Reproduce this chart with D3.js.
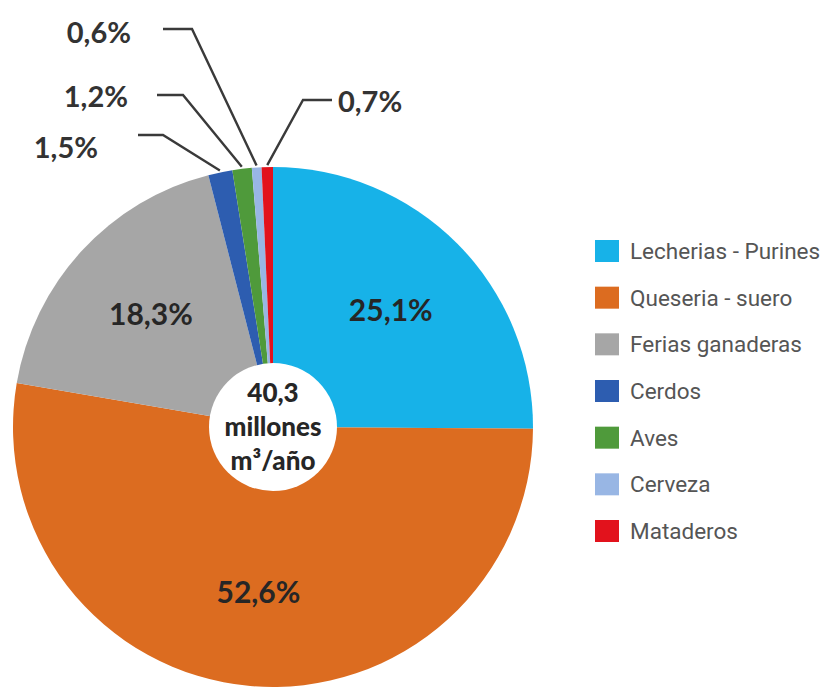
<!DOCTYPE html>
<html>
<head>
<meta charset="utf-8">
<script src="https://cdn.jsdelivr.net/npm/d3@7"></script>
<style>
  html, body { margin: 0; padding: 0; background: #ffffff; }
  svg { display: block; }
</style>
</head>
<body>
<svg id="chart" width="829" height="692"></svg>
<script>
// ---- data ----
const categories = ["Lecherias - Purines", "Queseria - suero", "Ferias ganaderas", "Cerdos", "Aves", "Cerveza", "Mataderos"];
const shares = [25.1, 52.6, 18.3, 1.5, 1.2, 0.6, 0.7];
const shareLabels = ["25,1%", "52,6%", "18,3%", "1,5%", "1,2%", "0,6%", "0,7%"];
const colors = ["#17b2e8", "#dc6c20", "#a6a6a6", "#2d5db0", "#4f9a3b", "#98b6e4", "#e2121c"];
const centerLines = ["40,3", "millones", "m³/año"];

// ---- layout ----
const W = 829, H = 692;
const cx = 273, cy = 427, R = 260, holeR = 64, labelR = 166;
const insideIdx = [0, 1, 2];
// leader-line layout for small slices: elbow point and horizontal end, text anchor
const outside = {
  3: { elbow: [163, 135], end: [138, 135], text: [98, 148], anchor: "end" },
  4: { elbow: [183, 95],  end: [157, 95],  text: [128, 97], anchor: "end" },
  5: { elbow: [192, 29],  end: [163, 29],  text: [131, 33], anchor: "end" },
  6: { elbow: [303, 100], end: [332, 100], text: [338, 102], anchor: "start" }
};

const svg = d3.select("#chart");
const data = categories.map((c, i) => ({ name: c, value: shares[i], label: shareLabels[i], color: colors[i], i }));

const pie = d3.pie().sort(null).value(d => d.value).startAngle(0).endAngle(2 * Math.PI);
const arcs = pie(data);
const arc = d3.arc().innerRadius(0).outerRadius(R);
const labelArc = d3.arc().innerRadius(labelR).outerRadius(labelR);
const edgeArc = d3.arc().innerRadius(R + 2).outerRadius(R + 2);

const g = svg.append("g").attr("transform", `translate(${cx},${cy})`);

g.selectAll("path.slice")
  .data(arcs)
  .join("path")
  .attr("class", "slice")
  .attr("d", arc)
  .attr("fill", d => d.data.color);

// center circle
g.append("circle").attr("r", holeR).attr("fill", "#ffffff");
g.append("text")
  .attr("text-anchor", "middle")
  .attr("font-family", "Lato, 'Open Sans', sans-serif")
  .attr("font-weight", 900)
  .attr("font-size", 26)
  .attr("fill", "#262626")
  .selectAll("tspan")
  .data(centerLines)
  .join("tspan")
  .attr("x", 0)
  .attr("y", (d, i) => -34 + 9 + i * 34)
  .text(d => d);

// inside labels
g.selectAll("text.inlabel")
  .data(arcs.filter(a => insideIdx.includes(a.data.i)))
  .join("text")
  .attr("class", "inlabel")
  .attr("transform", d => `translate(${labelArc.centroid(d)})`)
  .attr("text-anchor", "middle")
  .attr("dy", "0.36em")
  .attr("font-family", "Lato, 'Open Sans', sans-serif")
  .attr("font-weight", 700)
  .attr("font-size", 30)
  .attr("fill", "#262626")
  .text(d => d.data.label);

// leader lines + outside labels
const outArcs = arcs.filter(a => outside[a.data.i]);
svg.selectAll("polyline.leader")
  .data(outArcs)
  .join("polyline")
  .attr("class", "leader")
  .attr("fill", "none")
  .attr("stroke", "#3a3a3a")
  .attr("stroke-width", 2.4)
  .attr("points", d => {
    const c = edgeArc.centroid(d);
    const o = outside[d.data.i];
    return [[cx + c[0], cy + c[1]], o.elbow, o.end].map(p => p.join(",")).join(" ");
  });

svg.selectAll("text.outlabel")
  .data(outArcs)
  .join("text")
  .attr("class", "outlabel")
  .attr("x", d => outside[d.data.i].text[0])
  .attr("y", d => outside[d.data.i].text[1])
  .attr("dy", "0.36em")
  .attr("text-anchor", d => outside[d.data.i].anchor)
  .attr("font-family", "Lato, 'Open Sans', sans-serif")
  .attr("font-weight", 700)
  .attr("font-size", 29)
  .attr("fill", "#333333")
  .text(d => d.data.label);

// legend
const legY = d3.scalePoint().domain(categories).range([251, 531]);
const leg = svg.append("g");
const items = leg.selectAll("g.item")
  .data(data)
  .join("g")
  .attr("class", "item")
  .attr("transform", d => `translate(595,${legY(d.name)})`);
items.append("rect")
  .attr("x", 0).attr("y", -11)
  .attr("width", 24).attr("height", 22)
  .attr("fill", d => d.color);
items.append("text")
  .attr("x", 35).attr("y", 0)
  .attr("dy", "0.35em")
  .attr("font-family", "Roboto, sans-serif")
  .attr("font-weight", 400)
  .attr("font-size", 22.5)
  .attr("fill", "#555555")
  .text(d => d.name);
</script>
</body>
</html>
